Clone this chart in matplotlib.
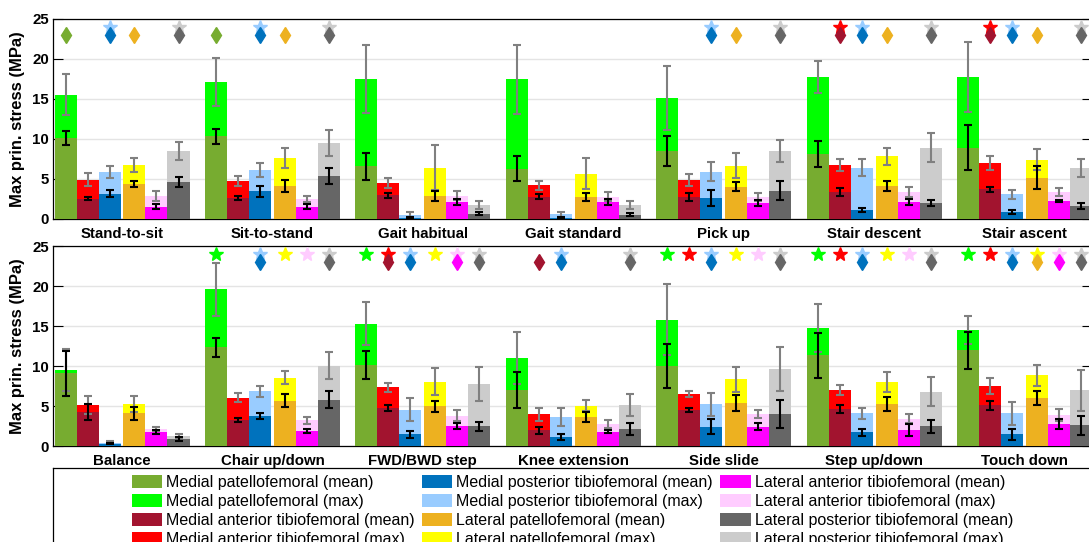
"""Max principal stress per knee compartment, two panels of activities."""

import matplotlib

matplotlib.use("Agg")
import matplotlib.pyplot as plt
import numpy as np
from matplotlib.patches import Patch

plt.rcParams["font.family"] = ["Liberation Sans", "DejaVu Sans"]

LOCATIONS = [
    "Medial patellofemoral",
    "Medial anterior tibiofemoral",
    "Medial posterior tibiofemoral",
    "Lateral patellofemoral",
    "Lateral anterior tibiofemoral",
    "Lateral posterior tibiofemoral",
]
MEAN_COLORS = ["#77AC30", "#A2142F", "#0072BD", "#EDB120", "#FF00FF", "#666666"]
MAX_COLORS = ["#00FF00", "#FF0000", "#99CCFF", "#FFFF00", "#FFCCFF", "#CCCCCC"]

# ---- top panel ----
top_activities = ["Stand-to-sit", "Sit-to-stand", "Gait habitual", "Gait standard",
                  "Pick up", "Stair descent", "Stair ascent"]
# rows: location, columns: activity
top_max = [
    [15.5, 17.1, 17.45, 17.4, 15.1, 17.7, 17.7],
    [4.9, 4.75, 4.5, 4.2, 4.9, 6.75, 7.0],
    [5.9, 6.1, 0.55, 0.58, 5.9, 6.4, 3.1],
    [6.75, 7.6, 6.4, 5.65, 6.65, 7.8, 7.4],
    [2.9, 2.5, 2.9, 2.8, 2.75, 3.4, 3.4],
    [8.45, 9.45, 1.75, 1.75, 8.45, 8.9, 6.35],
]
top_max_sd = [
    [2.55, 3.0, 4.2, 4.3, 3.95, 1.95, 4.4],
    [0.8, 0.65, 0.6, 0.6, 0.75, 0.73, 0.9],
    [0.75, 0.85, 0.33, 0.3, 1.15, 1.1, 0.55],
    [0.9, 1.2, 2.8, 1.9, 1.6, 1.1, 1.3],
    [0.6, 0.4, 0.55, 0.6, 0.55, 0.6, 0.5],
    [1.1, 1.65, 0.5, 0.5, 1.4, 1.8, 1.15],
]
top_mean = [
    [10.1, 10.3, 6.55, 6.25, 8.5, 8.1, 8.9],
    [2.55, 2.6, 2.95, 2.8, 2.7, 3.4, 3.7],
    [3.15, 3.45, 0.12, 0.1, 2.6, 1.15, 0.9],
    [4.4, 4.1, 2.9, 2.75, 4.05, 4.15, 5.15],
    [1.55, 1.55, 2.15, 2.1, 2.0, 2.1, 2.25],
    [4.65, 5.35, 0.65, 0.55, 3.55, 2.0, 1.65],
]
top_mean_sd = [
    [0.9, 0.95, 1.7, 1.55, 1.9, 1.65, 2.85],
    [0.23, 0.25, 0.35, 0.35, 0.5, 0.5, 0.35],
    [0.45, 0.65, 0.1, 0.1, 1.0, 0.23, 0.23],
    [0.4, 0.75, 0.65, 0.55, 0.6, 0.65, 1.45],
    [0.3, 0.3, 0.35, 0.4, 0.4, 0.35, 0.15],
    [0.6, 0.95, 0.2, 0.2, 1.2, 0.4, 0.4],
]
# (activity, location) pairs flagged as significant
top_stars = [(0, 2), (0, 5), (1, 2), (1, 5), (4, 2), (4, 5),
             (5, 1), (5, 2), (5, 5), (6, 1), (6, 2), (6, 5)]
top_diamonds = [(0, 0), (0, 2), (0, 3), (0, 5), (1, 0), (1, 2), (1, 3), (1, 5),
                (4, 2), (4, 3), (4, 5), (5, 1), (5, 2), (5, 3), (5, 5),
                (6, 1), (6, 2), (6, 3), (6, 5)]

# ---- bottom panel ----
bottom_activities = ["Balance", "Chair up/down", "FWD/BWD step", "Knee extension",
                     "Side slide", "Step up/down", "Touch down"]
bottom_max = [
    [9.5, 19.6, 15.3, 11.05, 15.8, 14.75, 14.5],
    [5.15, 6.05, 7.35, 3.95, 6.5, 6.95, 7.45],
    [0.4, 6.85, 4.55, 3.65, 5.2, 4.1, 4.1],
    [5.25, 8.55, 8.05, 5.05, 8.35, 8.05, 8.85],
    [2.1, 3.2, 3.8, 2.75, 4.0, 3.4, 3.85],
    [1.2, 10.05, 7.75, 5.1, 9.6, 6.8, 6.95],
]
bottom_max_sd = [
    [2.65, 3.3, 2.65, 3.25, 4.45, 3.0, 1.8],
    [1.1, 0.6, 0.58, 0.83, 0.35, 0.63, 1.0],
    [0.2, 0.67, 1.4, 1.1, 1.46, 0.69, 1.42],
    [0.96, 0.8, 1.67, 0.73, 1.56, 1.25, 1.3],
    [0.25, 0.43, 0.7, 0.56, 0.56, 0.58, 0.73],
    [0.25, 1.7, 2.1, 1.37, 2.77, 1.8, 2.6],
]
bottom_mean = [
    [9.1, 12.35, 10.1, 7.0, 10.0, 11.35, 11.95],
    [4.2, 3.25, 4.8, 1.95, 4.5, 4.6, 5.1],
    [0.3, 3.8, 1.45, 1.15, 2.4, 1.7, 1.45],
    [4.1, 5.65, 4.95, 3.6, 5.35, 5.3, 6.0],
    [1.75, 1.9, 2.5, 1.8, 2.4, 2.0, 2.8],
    [0.85, 5.8, 2.45, 2.15, 4.0, 2.45, 2.6],
]
bottom_mean_sd = [
    [2.8, 1.2, 1.75, 2.25, 2.73, 2.8, 2.33],
    [1.0, 0.2, 0.37, 0.45, 0.3, 0.48, 0.56],
    [0.1, 0.37, 0.43, 0.4, 0.92, 0.46, 0.67],
    [0.8, 0.8, 0.65, 0.65, 0.98, 0.87, 0.9],
    [0.3, 0.27, 0.4, 0.2, 0.42, 0.75, 0.62],
    [0.25, 1.1, 0.55, 0.77, 1.8, 0.8, 1.2],
]
bottom_stars = [(1, 0), (1, 2), (1, 3), (1, 4), (1, 5),
                (2, 0), (2, 1), (2, 2), (2, 3), (2, 4), (2, 5),
                (3, 2), (3, 5),
                (4, 0), (4, 1), (4, 2), (4, 3), (4, 4), (4, 5),
                (5, 0), (5, 1), (5, 2), (5, 3), (5, 4), (5, 5),
                (6, 0), (6, 1), (6, 2), (6, 3), (6, 4), (6, 5)]
bottom_diamonds = [(1, 2), (1, 5), (2, 1), (2, 2), (2, 4), (2, 5),
                   (3, 1), (3, 2), (3, 5), (4, 2), (4, 5), (5, 2), (5, 5),
                   (6, 2), (6, 3), (6, 4), (6, 5)]

STAR_Y = 24
DIAMOND_Y = 23
OFFSETS = np.array([-0.3756, -0.2293, -0.083, 0.083, 0.2293, 0.3756])
WIDTH = 0.1463

W, H = 1089, 542


def draw_panel(ax, activities, max_v, max_sd, mean_v, mean_sd, stars, diamonds):
    groups = np.arange(1, len(activities) + 1)
    for k in range(len(LOCATIONS)):
        ax.bar(groups + OFFSETS[k], max_v[k], WIDTH, color=MAX_COLORS[k], zorder=2)
    for k in range(len(LOCATIONS)):
        ax.bar(groups + OFFSETS[k], mean_v[k], WIDTH, color=MEAN_COLORS[k], zorder=2)
    for k in range(len(LOCATIONS)):
        ax.errorbar(groups + OFFSETS[k], max_v[k], yerr=max_sd[k], fmt="none",
                    ecolor="#808080", elinewidth=1.5, capsize=3, capthick=1.5, zorder=3)
    for k in range(len(LOCATIONS)):
        ax.errorbar(groups + OFFSETS[k], mean_v[k], yerr=mean_sd[k], fmt="none",
                    ecolor="black", elinewidth=1.5, capsize=3, capthick=1.5, zorder=3)

    for a, k in stars:
        ax.plot(groups[a] + OFFSETS[k], STAR_Y, marker="*", ms=10,
                color=MAX_COLORS[k], mec=MAX_COLORS[k], zorder=4, clip_on=False)
    for a, k in diamonds:
        ax.plot(groups[a] + OFFSETS[k], DIAMOND_Y, marker="d", ms=8,
                color=MEAN_COLORS[k], mec=MEAN_COLORS[k], zorder=5, clip_on=False)

    ax.set_xlim(0.5412, 7.449)
    ax.set_ylim(0, 25)
    ax.set_yticks([0, 5, 10, 15, 20, 25], labels=["0", "5", "10", "15", "20", "25"],
                  fontweight="bold", fontsize=10.8)
    ax.set_xticks(groups, labels=activities, fontweight="bold", fontsize=10.8)
    ax.tick_params(axis="x", length=0, pad=5.5)
    ax.tick_params(axis="y", direction="in", length=7.5, width=0.8, right=True, pad=3)
    ax.set_axisbelow(True)
    ax.yaxis.grid(True, color="#e4e4e4", linewidth=1.0)
    for spine in ax.spines.values():
        spine.set_linewidth(0.9)
        spine.set_color("black")
    ax.spines["bottom"].set_zorder(1.5)
    ax.set_ylabel("Max prin. stress (MPa)", fontsize=11.9, fontweight="bold")
    ax.yaxis.set_label_coords(-0.027, 0.5)


fig = plt.figure(figsize=(W / 100, H / 100), dpi=100)
ax_top = fig.add_axes([53 / W, 1 - 219 / H, 1039 / W, 200.5 / H])
ax_bot = fig.add_axes([53 / W, 1 - 446 / H, 1039 / W, 200 / H])

draw_panel(ax_top, top_activities, top_max, top_max_sd, top_mean, top_mean_sd,
           top_stars, top_diamonds)
draw_panel(ax_bot, bottom_activities, bottom_max, bottom_max_sd, bottom_mean,
           bottom_mean_sd, bottom_stars, bottom_diamonds)

# legend box spans the axes width, runs off the bottom edge
lax = fig.add_axes([53 / W, 1 - 560 / H, 1039 / W, 92 / H])
lax.set_xticks([])
lax.set_yticks([])
for spine in lax.spines.values():
    spine.set_linewidth(0.9)
    spine.set_color("black")

handles, labels = [], []
for k, name in enumerate(LOCATIONS):
    handles.append(Patch(facecolor=MEAN_COLORS[k], edgecolor="none"))
    labels.append(f"{name} (mean)")
    handles.append(Patch(facecolor=MAX_COLORS[k], edgecolor="none"))
    labels.append(f"{name} (max)")

lax.legend(handles, labels, loc="upper center", bbox_to_anchor=(0.5, 1.0), ncol=3,
           frameon=False, fontsize=11.5, handlelength=1.9, handleheight=0.9,
           handletextpad=0.25, columnspacing=0.45, labelspacing=0.24,
           borderpad=0.42, borderaxespad=0)

fig.savefig("out.png", dpi=100)
plt.close(fig)
